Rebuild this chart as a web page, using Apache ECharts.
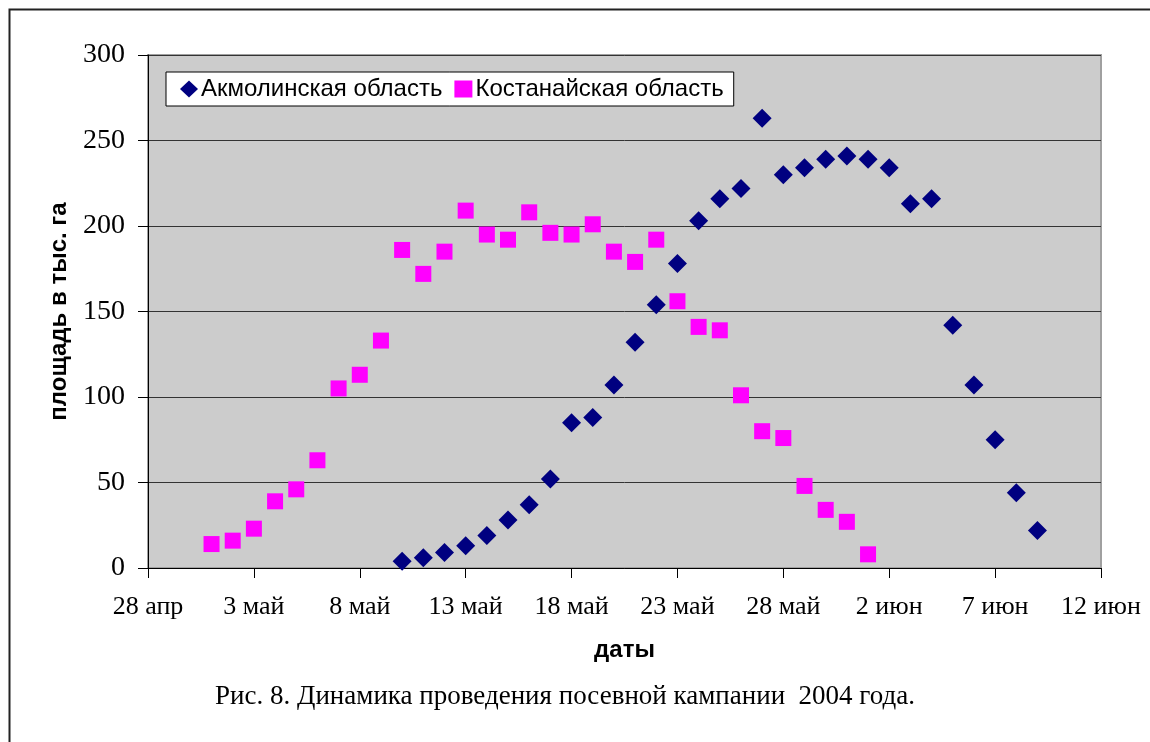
<!DOCTYPE html>
<html><head><meta charset="utf-8">
<script src="https://cdn.jsdelivr.net/npm/echarts@6/dist/echarts.min.js"></script>
<style>html,body{margin:0;padding:0;background:#fff}#c{width:1150px;height:742px}</style>
</head><body><div id="c"></div>
<script>
// Data
var startDate = '2004-04-28';
var xTickLabels = ['28 апр','3 май','8 май','13 май','18 май','23 май','28 май','2 июн','7 июн','12 июн'];
var akmolaDates = ['2004-05-10','2004-05-11','2004-05-12','2004-05-13','2004-05-14','2004-05-15','2004-05-16','2004-05-17','2004-05-18','2004-05-19','2004-05-20','2004-05-21','2004-05-22','2004-05-23','2004-05-24','2004-05-25','2004-05-26','2004-05-27','2004-05-28','2004-05-29','2004-05-30','2004-05-31','2004-06-01','2004-06-02','2004-06-03','2004-06-04','2004-06-05','2004-06-06','2004-06-07','2004-06-08','2004-06-09'];
var akmolaValues = [4,6,9,13,19,28,37,52,85,88,107,132,154,178,203,216,222,263,230,234,239,241,239,234,213,216,142,107,75,44,22];
var kostanayDates = ['2004-05-01','2004-05-02','2004-05-03','2004-05-04','2004-05-05','2004-05-06','2004-05-07','2004-05-08','2004-05-09','2004-05-10','2004-05-11','2004-05-12','2004-05-13','2004-05-14','2004-05-15','2004-05-16','2004-05-17','2004-05-18','2004-05-19','2004-05-20','2004-05-21','2004-05-22','2004-05-23','2004-05-24','2004-05-25','2004-05-26','2004-05-27','2004-05-28','2004-05-29','2004-05-30','2004-05-31','2004-06-01'];
var kostanayValues = [14,16,23,39,46,63,105,113,133,186,172,185,209,195,192,208,196,195,201,185,179,192,156,141,139,101,80,76,48,34,27,8];

function dayIndex(s){ return Math.round((Date.parse(s) - Date.parse(startDate)) / 86400000); }
function pairs(d, v){ return d.map(function(s,i){ return [dayIndex(s), v[i]]; }); }

var serif = '"Liberation Serif","Times New Roman",serif';
var sans = '"Liberation Sans",Arial,sans-serif';
var chart = echarts.init(document.getElementById('c'));
chart.setOption({
  animation:false,
  backgroundColor:'#fff',
  graphic:[
    {type:'rect', shape:{x:9.5,y:9.5,width:1300,height:900}, style:{fill:null, stroke:'#222', lineWidth:2}, z:-10},
    {type:'text', x:565, y:697, style:{text:'Рис. 8. Динамика проведения посевной кампании  2004 года.', font:'27px '+serif, fill:'#000', textAlign:'center', textVerticalAlign:'middle'}}
  ],
  grid:{left:148, top:55, right:49, bottom:174, show:true, backgroundColor:'#CCCCCC', borderColor:'#A0A0A0', borderWidth:2},
  legend:{
    left:166, top:72, orient:'horizontal',
    backgroundColor:'#fff', borderColor:'#000', borderWidth:1, borderRadius:0,
    padding:[5,10,5,14], itemGap:12, itemWidth:18, itemHeight:17,
    textStyle:{fontFamily:sans, fontSize:24, color:'#000', padding:[0,0,0,-2]},
    data:[{name:'Акмолинская область', icon:'diamond'},{name:'Костанайская область', icon:'rect'}]
  },
  xAxis:{
    type:'value', min:0, max:45, interval:5,
    name:'даты', nameLocation:'middle', nameGap:70,
    nameTextStyle:{fontFamily:sans, fontSize:24, fontWeight:'bold', color:'#000'},
    axisLine:{show:true, onZero:false, lineStyle:{color:'#000', width:1}},
    axisTick:{show:true, inside:false, length:10, lineStyle:{color:'#000'}},
    axisLabel:{margin:26, fontFamily:serif, fontSize:26, color:'#000',
      formatter:function(v){ return xTickLabels[Math.round(v/5)] || ''; }},
    splitLine:{show:false}
  },
  yAxis:{
    type:'value', min:0, max:300, interval:50,
    name:'площадь в тыс. га', nameLocation:'middle', nameGap:77, nameRotate:90,
    nameTextStyle:{fontFamily:sans, fontSize:24, fontWeight:'bold', color:'#000'},
    axisLine:{show:true, lineStyle:{color:'#000', width:1}},
    axisTick:{show:true, inside:false, length:10, lineStyle:{color:'#000'}},
    axisLabel:{margin:23, fontFamily:serif, fontSize:28, color:'#000'},
    splitLine:{show:true, lineStyle:{color:'#333', width:1}}
  },
  series:[
    {name:'Акмолинская область', type:'scatter', symbol:'diamond', symbolSize:[19,19],
     itemStyle:{color:'#000080', opacity:1}, data:pairs(akmolaDates, akmolaValues)},
    {name:'Костанайская область', type:'scatter', symbol:'rect', symbolSize:[16,16],
     itemStyle:{color:'#FF00FF', opacity:1}, data:pairs(kostanayDates, kostanayValues)}
  ]
});
</script></body></html>
